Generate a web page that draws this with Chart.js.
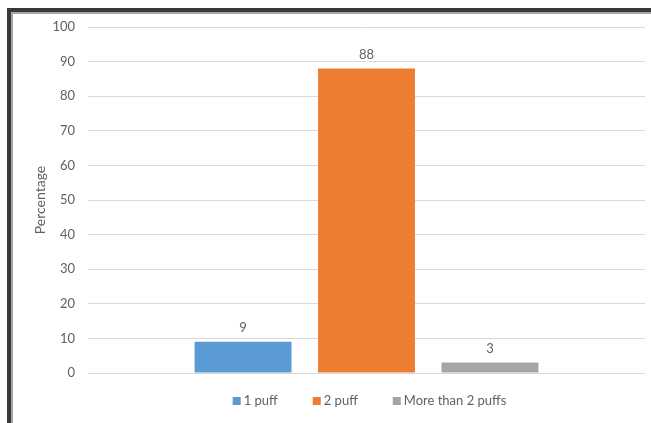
<!DOCTYPE html>
<html>
<head>
<meta charset="utf-8">
<script src="https://cdn.jsdelivr.net/npm/chart.js@4/dist/chart.umd.min.js"></script>
<style>
  html, body { margin: 0; padding: 0; background: #fff; overflow: hidden; }
  #wrap { position: relative; width: 651px; height: 423px; overflow: hidden; }
  #frame {
    position: absolute; left: 7px; top: 8px; width: 700px; height: 500px;
    border-left: 4px solid #3a3a3a; border-top: 4px solid #3a3a3a;
    box-shadow: inset 2px 2px 0 #a6a6a6;
  }
  canvas { position: absolute; left: 0; top: 0; }
</style>
</head>
<body>
<div id="wrap">
  <div id="frame"></div>
  <canvas id="c" width="651" height="423"></canvas>
</div>
<script>
// Number of puffs taken (percentage of respondents)
const categories = [''];
const seriesNames = ['1 puff', '2 puff', 'More than 2 puffs'];
const seriesValues = [9, 88, 3];
const seriesColors = ['#5B9BD5', '#ED7D31', '#A5A5A5'];
const yTicks = [0, 10, 20, 30, 40, 50, 60, 70, 80, 90, 100];
const yTitle = 'Percentage';

const textColor = '#616161';
const fontFamily = 'Lato, "Open Sans", sans-serif';
const fontSize = 13;

// Value labels above each bar
const valueLabels = {
  id: 'valueLabels',
  afterDatasetsDraw(chart) {
    const ctx = chart.ctx;
    ctx.save();
    ctx.font = fontSize + 'px ' + fontFamily;
    ctx.fillStyle = textColor;
    ctx.textAlign = 'center';
    ctx.textBaseline = 'middle';
    chart.data.datasets.forEach((ds, i) => {
      const meta = chart.getDatasetMeta(i);
      meta.data.forEach((bar, j) => {
        ctx.fillText(String(ds.data[j]), bar.x, bar.y - 14);
      });
    });
    ctx.restore();
  }
};

// Compact legend row under the plot
const bottomLegend = {
  id: 'bottomLegend',
  afterDraw(chart) {
    const ctx = chart.ctx;
    const area = chart.chartArea;
    const box = 8, gapText = 3, gapItem = 35;
    ctx.save();
    ctx.font = fontSize + 'px ' + fontFamily;
    const items = chart.data.datasets.map(ds => ({
      label: ds.label, color: ds.backgroundColor,
      w: box + gapText + ctx.measureText(ds.label).width
    }));
    const total = items.reduce((s, it) => s + it.w, 0) + gapItem * (items.length - 1);
    let x = (area.left + area.right) / 2 + 3 - total / 2;
    const y = area.bottom + 28;
    ctx.textBaseline = 'middle';
    ctx.textAlign = 'left';
    items.forEach(it => {
      ctx.fillStyle = it.color;
      ctx.fillRect(x, y - box / 2, box, box);
      ctx.fillStyle = textColor;
      ctx.fillText(it.label, x + box + gapText, y);
      x += it.w + gapItem;
    });
    ctx.restore();
  }
};

new Chart(document.getElementById('c'), {
  type: 'bar',
  data: {
    labels: categories,
    datasets: seriesNames.map((name, i) => ({
      label: name,
      data: [seriesValues[i]],
      backgroundColor: seriesColors[i],
      borderWidth: 0,
      categoryPercentage: 0.665,
      barPercentage: 0.785
    }))
  },
  options: {
    responsive: false,
    animation: false,
    devicePixelRatio: 1,
    layout: { padding: { left: 28, right: 6, top: 27, bottom: 50 } },
    plugins: {
      legend: { display: false },
      tooltip: { enabled: false }
    },
    scales: {
      x: { display: false },
      y: {
        min: yTicks[0],
        max: yTicks[yTicks.length - 1],
        afterBuildTicks(scale) { scale.ticks = yTicks.map(v => ({ value: v })); },
        afterFit(scale) { scale.width = 60; },
        ticks: {
          color: textColor,
          padding: 13,
          font: { family: fontFamily, size: fontSize }
        },
        grid: { color: '#D9D9D9', lineWidth: 1, drawTicks: false },
        border: { display: false },
        title: {
          display: true,
          text: yTitle,
          color: textColor,
          font: { family: fontFamily, size: 14 }
        }
      }
    }
  },
  plugins: [valueLabels, bottomLegend]
});
</script>
</body>
</html>
